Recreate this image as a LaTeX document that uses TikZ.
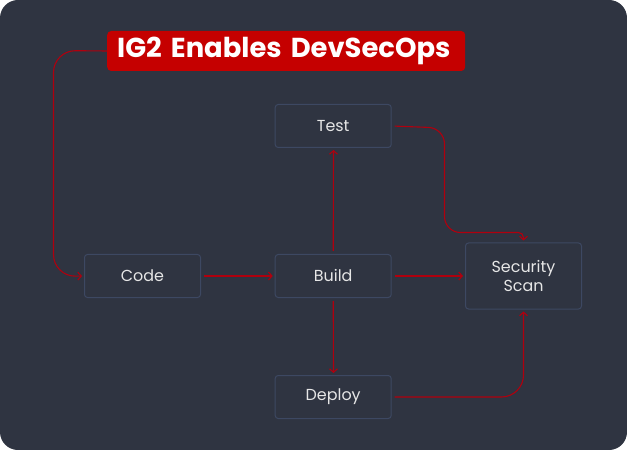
\documentclass[tikz,border=0pt]{standalone}
\usepackage{fontspec}
\setmainfont{Poppins}
\usepackage{tikz}
\usetikzlibrary{arrows,arrows.meta}
\definecolor{bgslate}{HTML}{2F3441}
\definecolor{boxline}{HTML}{3D4862}
\definecolor{flowred}{HTML}{B0000E}
\definecolor{titlered}{HTML}{C50000}
\definecolor{labelgray}{HTML}{E6E6E6}

\begin{document}
\begin{tikzpicture}[x=1bp,y=-1bp,>={Straight Barb[length=3.5bp,width=8bp]},
    stage/.style={draw=boxline,line width=1bp,rounded corners=3bp,
      minimum width=116bp,minimum height=43bp,text=labelgray,
      font=\fontsize{16}{20}\selectfont,align=center},
    flow/.style={->,draw=flowred,line width=1.1bp,shorten >=2bp,shorten <=3bp}]
    \fill[white] (0,0) rectangle (627,450);
    \fill[bgslate,rounded corners=18bp] (0,0) rectangle (627,450);

    \draw node at (107,51)[name=title,anchor=west,fill=titlered,rounded corners=4bp,
      inner xsep=10bp,text width=338bp,align=left,minimum height=40bp,text=white,
      font=\fontsize{27.5}{30}\bfseries\selectfont]{IG2 Enables DevSecOps};

    \draw node at (142.5,276)[name=code,stage]{Code};
    \draw node at (333.2,276)[name=build,stage]{Build};
    \draw node at (333.2,126)[name=test,stage]{Test};
    \draw node at (333.2,397)[name=deploy,stage]{Deploy};
    \draw node at (523.5,276)[name=scan,stage,minimum height=66bp]{Security\\Scan};

    \draw[flow,shorten <=0bp,rounded corners=22bp](title.west) -- (53.5,50.5) -- (53.5,276.5) -- (code.west);
    \draw[flow](code.east) -- (build.west);
    % slight x offset keeps the vertical links from vanishing in the raster
    \draw[flow](build.north) -- ([xshift=0.3bp]test.south);
    \draw[flow](build.south) -- ([xshift=0.3bp]deploy.north);
    \draw[flow](build.east) -- (scan.west);
    \draw[flow](test.east) [rounded corners=16bp] -- (444.5,128) -- (444.5,232.5)
      [rounded corners=5bp] -- (523.5,232.5) -- (scan.north);
    \draw[flow,rounded corners=22bp](deploy.east) -- (523.5,397) -- (scan.south);
\end{tikzpicture}
\end{document}
